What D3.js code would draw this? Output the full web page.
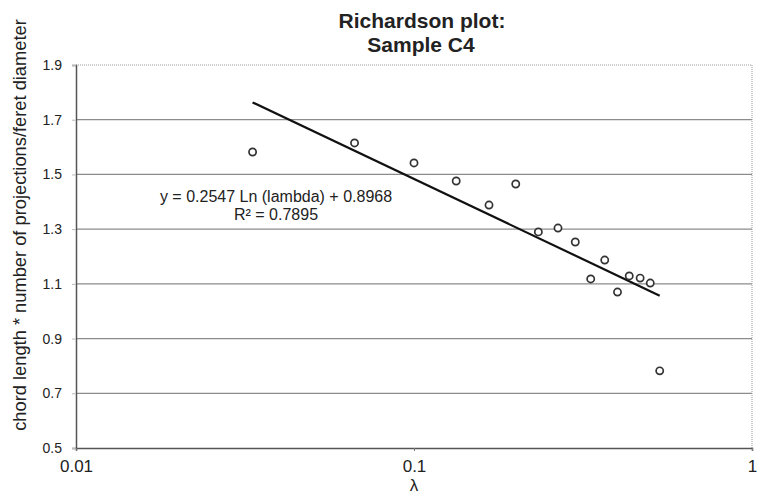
<!DOCTYPE html>
<meta charset="utf-8" />
<title>Richardson plot: Sample C4</title>
<script src="https://d3js.org/d3.v7.min.js"></script>
<style>
  body { margin: 0; background: #fff; }
  svg { display: block; font-family: "Liberation Sans", Arial, sans-serif; }
</style>
<div id="chart"></div>
<script>
  var width = 761, height = 495;

  // step length (lambda) and measured ratio for each point
  var lambda = [0.0333, 0.0667, 0.1, 0.1333, 0.1667, 0.2, 0.2333, 0.2667,
                0.3, 0.3333, 0.3667, 0.4, 0.4333, 0.4667, 0.5, 0.5333];
  var ratio = [1.582, 1.615, 1.542, 1.476, 1.388, 1.465, 1.290, 1.304,
               1.253, 1.118, 1.187, 1.070, 1.129, 1.121, 1.103, 0.782];

  // log trend line y = a*ln(x) + b
  var trendCoef = [-0.2547, 0.8968];
  var trendRange = [0.0333, 0.5333];
  var trendText = ["y = 0.2547 Ln (lambda) + 0.8968", "R\u00b2 = 0.7895"];

  var xTicks = [0.01, 0.1, 1];
  var xTickLabels = ["0.01", "0.1", "1"];
  var yTicks = [0.5, 0.7, 0.9, 1.1, 1.3, 1.5, 1.7, 1.9];

  var svg = d3.select("#chart").append("svg")
    .attr("width", width)
    .attr("height", height);

  var x = d3.scaleLog().domain([0.01, 1]).range([76, 752]);
  var y = d3.scaleLinear().domain([0.5, 1.9]).range([448, 65]);

  // gridlines
  svg.append("g")
    .selectAll("line")
    .data(yTicks.filter(d => d > 0.5 && d < 1.9))
    .join("line")
    .attr("x1", x(0.01)).attr("x2", x(1))
    .attr("y1", d => y(d)).attr("y2", d => y(d))
    .attr("stroke", "#8c8c8c")
    .attr("stroke-width", 1.2);

  // dotted top and right border
  svg.append("line")
    .attr("x1", x(0.01)).attr("x2", x(1))
    .attr("y1", y(1.9)).attr("y2", y(1.9))
    .attr("stroke", "#9a9a9a").attr("stroke-dasharray", "1,1");
  svg.append("line")
    .attr("x1", x(1)).attr("x2", x(1))
    .attr("y1", y(1.9)).attr("y2", y(0.5))
    .attr("stroke", "#9a9a9a").attr("stroke-dasharray", "1,1");

  // axes
  var yAxis = svg.append("g")
    .attr("transform", "translate(" + x(0.01) + ",0)")
    .call(d3.axisLeft(y).tickValues(yTicks).tickSize(4).tickPadding(10)
      .tickFormat(d3.format(".1f")));
  yAxis.select(".domain").attr("stroke", "#555").attr("stroke-width", 1.5);
  yAxis.selectAll(".tick line").attr("stroke", "#bbb");
  yAxis.selectAll("text").attr("font-size", 14).attr("fill", "#222")
    .attr("font-family", "Liberation Sans, Arial, sans-serif");

  var xAxis = svg.append("g")
    .attr("transform", "translate(0," + y(0.5) + ")")
    .call(d3.axisBottom(x).tickValues(xTicks).tickSize(3).tickPadding(9)
      .tickFormat((d, i) => xTickLabels[i]));
  xAxis.select(".domain").attr("stroke", "#555").attr("stroke-width", 1.5);
  xAxis.selectAll(".tick line").attr("stroke", "#777");
  xAxis.selectAll("text").attr("font-size", 17).attr("fill", "#222")
    .attr("font-family", "Liberation Sans, Arial, sans-serif");

  // trend line
  var line = d3.line()
    .x(d => x(d))
    .y(d => y(trendCoef[0] * Math.log(d) + trendCoef[1]));
  svg.append("path")
    .datum(trendRange)
    .attr("d", line)
    .attr("fill", "none")
    .attr("stroke", "#111")
    .attr("stroke-width", 2.2);

  // points
  svg.append("g")
    .selectAll("circle")
    .data(lambda)
    .join("circle")
    .attr("cx", d => x(d))
    .attr("cy", (d, i) => y(ratio[i]))
    .attr("r", 3.6)
    .attr("fill", "#fff")
    .attr("stroke", "#333")
    .attr("stroke-width", 1.7);

  // equation label
  svg.append("text")
    .attr("x", 276).attr("y", 202)
    .attr("text-anchor", "middle")
    .attr("font-size", 16).attr("fill", "#222")
    .text(trendText[0]);
  svg.append("text")
    .attr("x", 276).attr("y", 220)
    .attr("text-anchor", "middle")
    .attr("font-size", 16).attr("fill", "#222")
    .text(trendText[1]);

  // titles
  svg.append("text")
    .attr("x", 422).attr("y", 28)
    .attr("text-anchor", "middle")
    .attr("font-size", 21).attr("font-weight", "bold").attr("fill", "#222")
    .text("Richardson plot:");
  svg.append("text")
    .attr("x", 421).attr("y", 52)
    .attr("text-anchor", "middle")
    .attr("font-size", 21).attr("font-weight", "bold").attr("fill", "#222")
    .text("Sample C4");

  svg.append("text")
    .attr("x", 414).attr("y", 491)
    .attr("text-anchor", "middle")
    .attr("font-size", 17).attr("fill", "#222")
    .text("\u03bb");

  svg.append("text")
    .attr("transform", "translate(26,225) rotate(-90)")
    .attr("text-anchor", "middle")
    .attr("font-size", 18.3).attr("fill", "#222")
    .text("chord length * number of projections/feret diameter");
</script>
